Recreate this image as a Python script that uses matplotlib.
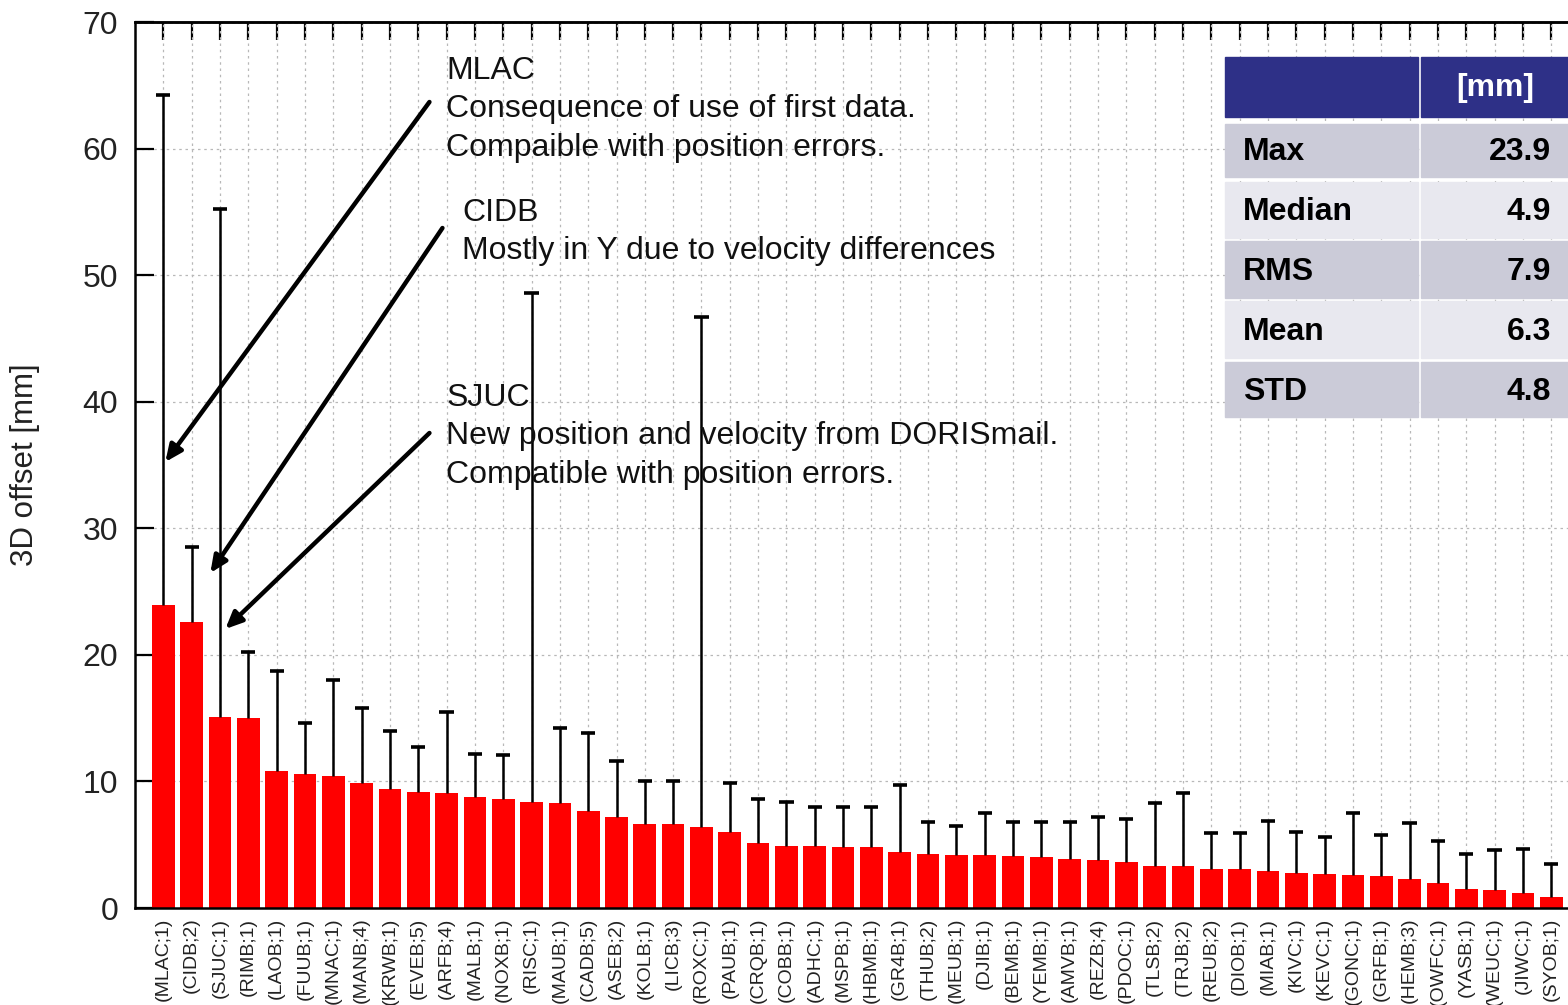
import matplotlib
matplotlib.use("Agg")
import matplotlib.pyplot as plt
from matplotlib.patches import Rectangle
import numpy as np

plt.rcParams['font.family'] = ['Liberation Sans', 'DejaVu Sans']

stations = ["(MLAC;1)", "(CIDB;2)", "(SJUC;1)", "(RIMB;1)", "(LAOB;1)", "(FUUB;1)", "(MNAC;1)",
            "(MANB;4)", "(KRWB;1)", "(EVEB;5)", "(ARFB;4)", "(MALB;1)", "(NOXB;1)", "(RISC;1)",
            "(MAUB;1)", "(CADB;5)", "(ASEB;2)", "(KOLB;1)", "(LICB;3)", "(ROXC;1)", "(PAUB;1)",
            "(CRQB;1)", "(COBB;1)", "(ADHC;1)", "(MSPB;1)", "(HBMB;1)", "(GR4B;1)", "(THUB;2)",
            "(MEUB;1)", "(DJIB;1)", "(BEMB;1)", "(YEMB;1)", "(AMVB;1)", "(REZB;4)", "(PDOC;1)",
            "(TLSB;2)", "(TRJB;2)", "(REUB;2)", "(DIOB;1)", "(MIAB;1)", "(KIVC;1)", "(KEVC;1)",
            "(GONC;1)", "(GRFB;1)", "(HEMB;3)", "(OWFC;1)", "(YASB;1)", "(WEUC;1)", "(JIWC;1)",
            "(SYOB;1)"]
offset_3d = [23.9, 22.6, 15.1, 15.0, 10.8, 10.6, 10.4, 9.9, 9.4, 9.2, 9.1, 8.8, 8.6, 8.4,
             8.3, 7.7, 7.2, 6.6, 6.6, 6.4, 6.0, 5.1, 4.9, 4.9, 4.8, 4.8, 4.4, 4.3,
             4.2, 4.2, 4.1, 4.0, 3.9, 3.8, 3.6, 3.3, 3.3, 3.1, 3.1, 2.9, 2.8, 2.7,
             2.6, 2.5, 2.3, 2.0, 1.5, 1.4, 1.2, 0.9]
error_top = [64.2, 28.5, 55.2, 20.2, 18.7, 14.6, 18.0, 15.8, 14.0, 12.7, 15.5, 12.2, 12.1, 48.6,
             14.2, 13.8, 11.6, 10.0, 10.0, 46.7, 9.9, 8.6, 8.4, 8.0, 8.0, 8.0, 9.7, 6.8,
             6.5, 7.5, 6.8, 6.8, 6.8, 7.2, 7.0, 8.3, 9.1, 5.9, 5.9, 6.9, 6.0, 5.6,
             7.5, 5.8, 6.7, 5.3, 4.3, 4.6, 4.7, 3.5]

stat_names = ["Max", "Median", "RMS", "Mean", "STD"]
stat_values = ["23.9", "4.9", "7.9", "6.3", "4.8"]
unit_header = "[mm]"

annotations = [
    "MLAC\nConsequence of use of first data.\nCompaible with position errors.",
    "CIDB\nMostly in Y due to velocity differences",
    "SJUC\nNew position and velocity from DORISmail.\nCompatible with position errors.",
]

W, H = 1568, 1005
fig = plt.figure(figsize=(W / 100, H / 100), dpi=100)

# axes geometry (pixels)
x0_px, top_px, bot_px = 135, 22, 908
spacing = 28.31
first_px = 164
xmin, xmax = -1, 50
right_px = first_px + xmax * spacing
ax = fig.add_axes([x0_px / W, 1 - bot_px / H, (right_px - x0_px) / W, (bot_px - top_px) / H])

x = np.arange(len(stations))
vals = np.array(offset_3d)
tops = np.array(error_top)

ax.bar(x, vals, width=0.8, color='#ff0000', zorder=2)
ax.vlines(x, vals, tops, color='black', linewidth=1.8, zorder=3)
ax.hlines(tops, x - 0.25, x + 0.25, color='black', linewidth=2.6, zorder=3)

ax.set_xlim(xmin, xmax)
ax.set_ylim(0, 70)
ax.set_yticks(range(0, 71, 10))
ax.set_xticks(x)
ax.set_xticklabels(stations, rotation=90, fontsize=14, color='#222222', va='top')
ax.tick_params(axis='x', length=0, pad=7)
ax.tick_params(axis='y', direction='in', length=14, width=1.6, labelsize=23, pad=12,
               right=False, labelcolor='#222222')

top = ax.secondary_xaxis('top')
top.set_xticks(x)
top.set_xticklabels([])
top.tick_params(direction='in', length=13, width=1.6)
top.spines['top'].set_linewidth(1.8)

for s in ax.spines.values():
    s.set_linewidth(1.8)

ax.grid(True, color='#b8b8b8', linestyle=(0, (2, 3)), linewidth=0.9, zorder=0)
ax.set_axisbelow(True)

fig.text(25 / W, 1 - 465 / H, "3D offset [mm]", rotation=90, ha='center', va='center',
         fontsize=22.5, color='#222222')

def pd(px, py):
    return ((px - first_px) / spacing, (bot_px - py) / (bot_px - top_px) * 70)

arrow_kw = dict(arrowstyle='-|>,head_length=1.0,head_width=0.45', color='black', lw=3.2,
                shrinkA=0, shrinkB=0)
text_pos = [(447, 56), (463, 198), (447, 383)]
arrows = [((430, 102), (166, 462)), ((443, 228), (211, 573)), ((430, 433), (226, 629))]
for txt, tp, (tail, head) in zip(annotations, text_pos, arrows):
    ax.text(*pd(*tp), txt, fontsize=23, va='top', ha='left', color='#111111',
            linespacing=1.36, zorder=5)
    ax.annotate('', xy=pd(*head), xytext=pd(*tail), arrowprops=arrow_kw, zorder=5)

# stats table (drawn in figure pixel space)
def fr(px, py, w, h, color):
    fig.patches.append(Rectangle((px / W, 1 - (py + h) / H), w / W, h / H,
                                 transform=fig.transFigure, color=color, zorder=10))

c1x, c1w = 1225, 193
c2x, c2w = 1421, 150
fr(c1x, 57, c1w, 60, '#2e3087')
fr(c2x, 57, c2w, 60, '#2e3087')
fig.text((c2x + 74) / W, 1 - 88 / H, unit_header, color='white', fontsize=23,
         fontweight='bold', ha='center', va='center', zorder=11)
row_tops = [124, 182, 241, 301, 362]
row_h = [53, 56, 57, 57, 55]
row_cols = ['#cbcbd8', '#e8e8ef', '#cbcbd8', '#e8e8ef', '#cbcbd8']
for name, val, ty, hh, col in zip(stat_names, stat_values, row_tops, row_h, row_cols):
    fr(c1x, ty, c1w, hh, col)
    fr(c2x, ty, c2w, hh, col)
    fig.text(1243 / W, 1 - (ty + hh / 2 + 2) / H, name, fontsize=23, fontweight='bold',
             ha='left', va='center', color='black', zorder=11)
    fig.text(1551 / W, 1 - (ty + hh / 2 + 2) / H, val, fontsize=23, fontweight='bold',
             ha='right', va='center', color='black', zorder=11)

fig.savefig('out.png', dpi=100)
